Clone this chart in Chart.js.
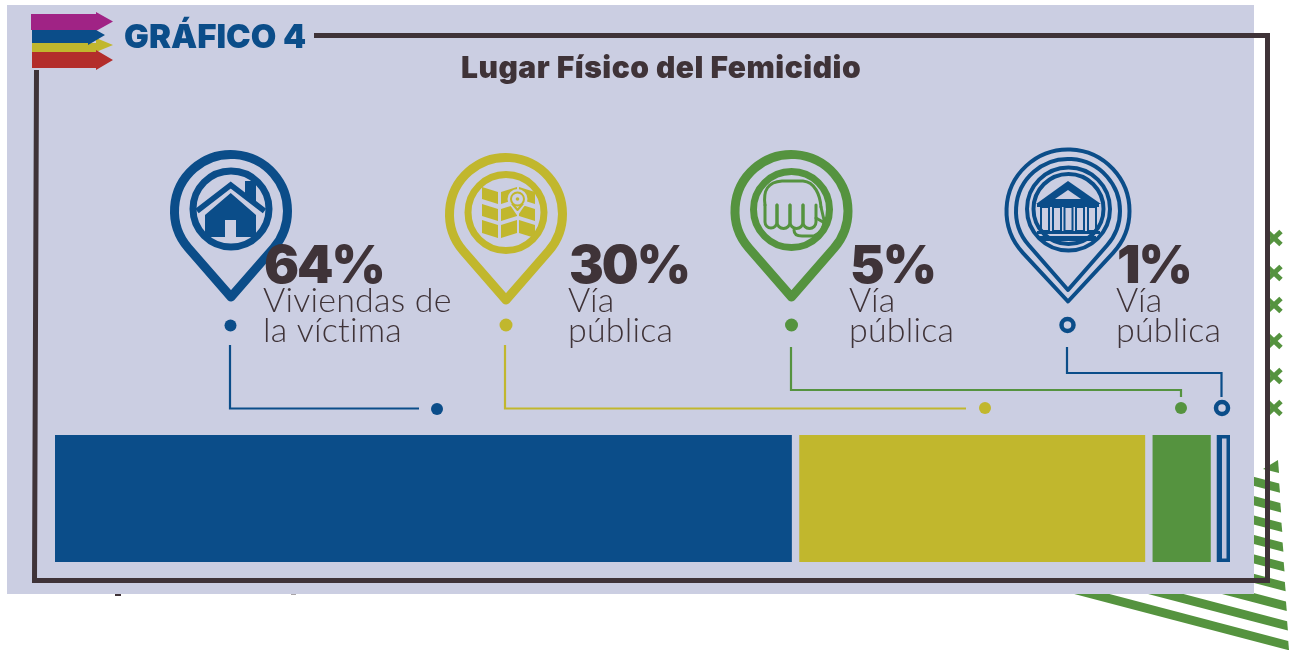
<!DOCTYPE html>
<html lang="es">
<head>
<meta charset="utf-8">
<title>Lugar Físico del Femicidio</title>
<script src="https://cdn.jsdelivr.net/npm/chart.js@4"></script>
<style>
    html, body { margin: 0; padding: 0; background: #fff; }
    canvas { display: block; }
</style>
</head>
<body>
<canvas id="lugarChart" width="1295" height="650"></canvas>
<script>
const categories = ["Viviendas de la víctima", "Vía pública", "Vía pública", "Vía pública"];
const labelLines = [["Viviendas de", "la víctima"], ["Vía", "pública"], ["Vía", "pública"], ["Vía", "pública"]];
const shares = [64, 30, 5, 1];

const NAVY = "#0b4d89";
const YELLOW = "#c1b72d";
const GREEN = "#55933f";
const RED = "#b32d2b";
const PURPLE = "#a02385";
const DARK = "#3f3338";
const PANEL = "#cbcee2";

const colors = [NAVY, YELLOW, GREEN, NAVY];
const GAP = 0.7; // espacio entre barras, en unidades del eje

function polygon(ctx, pts, color) {
    ctx.fillStyle = color;
    ctx.beginPath();
    pts.forEach((p, i) => (i ? ctx.lineTo(p[0], p[1]) : ctx.moveTo(p[0], p[1])));
    ctx.closePath();
    ctx.fill();
}

function circle(ctx, x, y, r, color, width) {
    ctx.beginPath();
    ctx.arc(x, y, r, 0, Math.PI * 2);
    if (width) {
        ctx.strokeStyle = color;
        ctx.lineWidth = width;
        ctx.stroke();
    } else {
        ctx.fillStyle = color;
        ctx.fill();
    }
}

function polyline(ctx, pts, color, width) {
    ctx.strokeStyle = color;
    ctx.lineWidth = width;
    ctx.beginPath();
    pts.forEach((p, i) => (i ? ctx.lineTo(p[0], p[1]) : ctx.moveTo(p[0], p[1])));
    ctx.stroke();
}

function pinPath(ctx, cx, cy, r, tipY, color, width) {
    const a = Math.acos(r / (tipY - cy));
    ctx.beginPath();
    ctx.arc(cx, cy, r, Math.PI / 2 + a, Math.PI / 2 - a);
    ctx.lineTo(cx, tipY);
    ctx.closePath();
    ctx.lineJoin = "round";
    ctx.strokeStyle = color;
    ctx.lineWidth = width;
    ctx.stroke();
}

function drawBackdrop(ctx) {
    // rayas verdes detras del panel
    for (let i = 0; i < 9; i++) {
        const rx = 1280 + i * 1.13;
        const ry = 492.7 + i * 19.7;
        const back = 1060;
        const drop = (rx - back) * 0.262;
        polygon(ctx, [[back, ry - drop], [rx, ry], [rx - 0.8, ry - 9.3], [back, ry - 9.3 - drop]], GREEN);
    }
    polygon(ctx, [[1263, 469], [1278, 460], [1279, 473]], GREEN);

    // cruces verdes
    ctx.lineCap = "butt";
    [238, 273, 305, 341, 376, 408].forEach((y) => {
        polyline(ctx, [[1267, y - 6.5], [1281, y + 6.5]], GREEN, 5);
        polyline(ctx, [[1281, y - 6.5], [1267, y + 6.5]], GREEN, 5);
    });

    ctx.fillStyle = PANEL;
    ctx.fillRect(7, 5, 1247, 589);

    ctx.fillStyle = DARK;
    ctx.fillRect(115, 594, 6, 2);
    ctx.fillStyle = "#a9a5a8";
    ctx.fillRect(291, 594, 5, 1);

    // marco
    ctx.lineJoin = "miter";
    polyline(ctx, [[314, 35.5], [1267.5, 35.5], [1267.5, 580.5], [34.5, 580.5], [36.5, 70]], DARK, 5);

    // flechas del encabezado
    polygon(ctx, [[32, 43], [96, 43], [96, 38], [113, 45], [96, 52], [32, 52]], YELLOW);
    polygon(ctx, [[31, 14], [96, 14], [96, 12], [113, 21.5], [96, 31], [96, 30], [31, 30]], PURPLE);
    polygon(ctx, [[32, 30], [96, 30], [105, 35], [88, 45], [88, 43], [32, 43]], NAVY);
    polygon(ctx, [[32, 52], [96, 52], [96, 50], [113, 60], [96, 70], [96, 68], [32, 68]], RED);
}

function houseIcon(ctx, c) {
    polygon(ctx, [[245, 181], [256, 181], [256, 204], [245, 196]], c);
    ctx.lineCap = "butt";
    ctx.lineJoin = "miter";
    polyline(ctx, [[197, 211], [230.7, 185], [264.5, 211]], c, 5.5);
    polygon(ctx, [[205, 215], [230.7, 193], [256, 215], [256, 237], [236, 237], [236, 220], [225, 220], [225, 237], [205, 237]], c);
}

function mapIcon(ctx, c) {
    const cols = [[482, 498, 5], [501, 517, -5], [519, 535, 5]];
    const rows = [[187, 199], [204, 216], [220, 233]];
    cols.forEach((col) => {
        rows.forEach((row) => {
            const dl = col[2] > 0 ? 0 : -col[2];
            const dr = col[2] > 0 ? col[2] : 0;
            polygon(ctx, [[col[0], row[0] + dl], [col[1], row[0] + dr], [col[1], row[1] + dr], [col[0], row[1] + dl]], c);
        });
    });
    // pin pequeño sobre el mapa
    circle(ctx, 517.5, 199, 10, PANEL);
    polygon(ctx, [[510, 205], [525, 205], [517.5, 216]], PANEL);
    circle(ctx, 517.5, 199, 6.5, c, 2);
    polyline(ctx, [[512, 203.5], [517.5, 210], [523, 203.5]], c, 2);
    circle(ctx, 517.5, 199, 1.8, c);
}

function fistIcon(ctx, c) {
    ctx.strokeStyle = c;
    ctx.lineWidth = 3;
    ctx.lineCap = "round";
    ctx.lineJoin = "round";
    ctx.beginPath();
    ctx.moveTo(765, 205);
    ctx.bezierCurveTo(763, 190, 768, 182, 782, 181);
    ctx.lineTo(803, 181);
    ctx.bezierCurveTo(815, 182, 820, 195, 821, 207);
    ctx.stroke();
    [[765, 777], [777, 790], [790, 803], [803, 816]].forEach((f) => {
        const mid = (f[0] + f[1]) / 2;
        const r = (f[1] - f[0]) / 2;
        ctx.beginPath();
        ctx.moveTo(f[0], 205);
        ctx.lineTo(f[0], 222);
        ctx.arc(mid, 222, r, Math.PI, 0, true);
        ctx.lineTo(f[1], 205);
        ctx.stroke();
    });
    ctx.beginPath();
    ctx.moveTo(794, 230);
    ctx.quadraticCurveTo(794, 236, 802, 236);
    ctx.lineTo(814, 236);
    ctx.quadraticCurveTo(824, 232, 824, 220);
    ctx.moveTo(816, 218);
    ctx.lineTo(823, 222);
    ctx.moveTo(821, 207);
    ctx.lineTo(824, 220);
    ctx.stroke();
}

function bankIcon(ctx, c) {
    polygon(ctx, [[1068, 181], [1101, 204], [1036, 204]], c);
    polygon(ctx, [[1068, 190], [1081, 199], [1055, 199]], PANEL);
    polygon(ctx, [[1037, 204], [1099, 204], [1099, 207], [1037, 207]], c);
    [1045, 1057, 1068.5, 1080, 1092].forEach((x) => {
        ctx.strokeStyle = c;
        ctx.lineWidth = 2;
        ctx.strokeRect(x - 4, 207, 8, 24);
    });
    ctx.fillStyle = c;
    ctx.fillRect(1037, 231, 63, 3);
    ctx.fillRect(1040, 236, 56, 5);
}

function drawPins(ctx) {
    pinPath(ctx, 231, 211, 56.5, 297, NAVY, 9);
    circle(ctx, 231, 209, 38, NAVY, 7);
    houseIcon(ctx, NAVY);

    pinPath(ctx, 506, 214, 56.5, 300, YELLOW, 9);
    circle(ctx, 506, 212.5, 38, YELLOW, 7);
    mapIcon(ctx, YELLOW);

    pinPath(ctx, 791.5, 211, 56.5, 297, GREEN, 9);
    circle(ctx, 791.5, 209.5, 38, GREEN, 7);
    fistIcon(ctx, GREEN);

    pinPath(ctx, 1068, 211, 61.5, 301.5, NAVY, 4);
    pinPath(ctx, 1068, 211, 52, 290, NAVY, 4);
    circle(ctx, 1068.5, 209, 41.5, NAVY, 4);
    circle(ctx, 1068.5, 209, 35, NAVY, 4);
    bankIcon(ctx, NAVY);
}

function drawConnectors(ctx) {
    ctx.lineCap = "butt";
    ctx.lineJoin = "miter";

    circle(ctx, 230.5, 325.5, 6, NAVY);
    polyline(ctx, [[230, 345], [230, 408.5], [419, 408.5]], NAVY, 2.2);
    circle(ctx, 437, 409, 6, NAVY);

    circle(ctx, 506, 325, 6.5, YELLOW);
    polyline(ctx, [[505, 345], [505, 408.5], [966, 408.5]], YELLOW, 2.2);
    circle(ctx, 985, 408, 6, YELLOW);

    circle(ctx, 791.5, 325, 6.5, GREEN);
    polyline(ctx, [[791, 347], [791, 390], [1181, 390], [1181, 397]], GREEN, 2.2);
    circle(ctx, 1181, 408, 6, GREEN);

    circle(ctx, 1067.5, 325, 6, NAVY, 4.5);
    polyline(ctx, [[1067, 347], [1067, 373], [1221.5, 373], [1221.5, 397]], NAVY, 2.2);
    circle(ctx, 1222, 408, 6, NAVY, 4.5);
}

function drawTexts(ctx) {
    ctx.textAlign = "left";
    ctx.textBaseline = "alphabetic";

    ctx.fillStyle = NAVY;
    ctx.font = "900 33px Inter";
    ctx.fillText("GRÁFICO 4", 124, 48);

    ctx.fillStyle = DARK;
    ctx.font = "900 30px Inter";
    ctx.letterSpacing = "0.5px";
    ctx.fillText("Lugar Físico del Femicidio", 461, 78);

    const textX = [264, 569, 850, 1117];
    shares.forEach((share, i) => {
        ctx.fillStyle = DARK;
        ctx.font = "900 52px Inter";
        ctx.letterSpacing = "-2px";
        ctx.fillText(share + "%", textX[i], 283);
        ctx.font = "300 34px Lato";
        ctx.letterSpacing = "0.2px";
        ctx.fillText(labelLines[i][0], textX[i] - 1, 312);
        ctx.fillText(labelLines[i][1], textX[i] - 1, 342);
    });
    ctx.letterSpacing = "0px";
}

const infographic = {
    id: "infographic",
    beforeDraw(chart) {
        drawBackdrop(chart.ctx);
    },
    afterDraw(chart) {
        const ctx = chart.ctx;
        ctx.save();
        drawPins(ctx);
        drawConnectors(ctx);
        drawTexts(ctx);
        ctx.restore();
    },
};

let start = 0;
const datasets = shares.map((share, i) => {
    const ds = {
        label: categories[i],
        data: [[start, start + share]],
        backgroundColor: colors[i],
        grouped: false,
        borderWidth: 0,
        borderSkipped: false,
        barPercentage: 1,
        categoryPercentage: 1,
    };
    if (i === 3) {
        ds.backgroundColor = "#c0c4dc";
        ds.borderColor = NAVY;
        ds.borderWidth = 5.5;
        ds.inflateAmount = 2;
    }
    start += share + GAP;
    return ds;
});

new Chart(document.getElementById("lugarChart"), {
    type: "bar",
    data: { labels: ["Lugar físico"], datasets: datasets },
    options: {
        indexAxis: "y",
        responsive: false,
        animation: false,
        layout: { padding: { left: 55, right: 65, top: 435, bottom: 88 } },
        scales: {
            x: { display: false, min: 0, max: start - GAP },
            y: { display: false },
        },
        plugins: {
            legend: { display: false },
            tooltip: { enabled: false },
        },
    },
    plugins: [infographic],
});
</script>
</body>
</html>
